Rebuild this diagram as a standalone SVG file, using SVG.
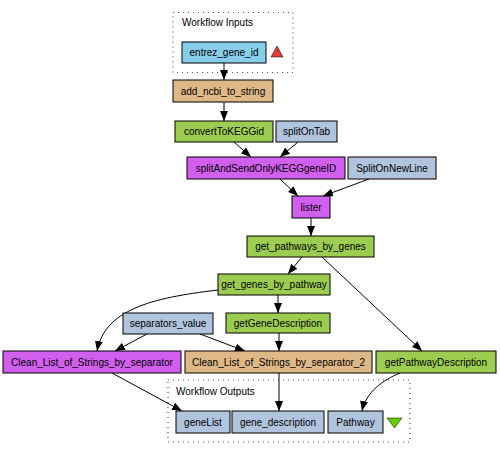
<svg xmlns="http://www.w3.org/2000/svg" width="500" height="454" viewBox="0 0 500 454">
<style>
text{font-family:"Liberation Sans",Arial,sans-serif;font-size:10px;fill:#000;}
.n text{text-anchor:middle;}
.box{stroke:#000;stroke-width:1;}
.cluster{fill:none;stroke:#555;stroke-width:1.2;stroke-dasharray:1 4;}
.in{fill:#87ceeb;}
.bean{fill:#deb887;}
.ws{fill:#9ccd50;}
.str{fill:#b0c4de;}
.loc{fill:#d15fee;}
.e{fill:none;stroke:#000;stroke-width:1;marker-end:url(#ah);}
</style>
<defs>
<marker id="ah" markerWidth="10" markerHeight="8" refX="10" refY="4" orient="auto" markerUnits="userSpaceOnUse">
<path d="M0,0 L10,4 L0,8 Z" fill="#000"/>
</marker>
</defs>
<rect width="500" height="454" fill="#fff"/>
<g id="workflow_inputs">
<rect class="cluster" x="173" y="12.5" width="120" height="60"/>
<text x="182" y="26">Workflow Inputs</text>
</g>
<g id="workflow_outputs">
<rect class="cluster" x="168" y="380" width="242" height="62"/>
<text x="176" y="395">Workflow Outputs</text>
</g>
<g id="connectors">
<path class="e" d="M224,63 L224,80"/>
<path class="e" d="M224,102 L224,121"/>
<path class="e" d="M234,142 L251,157"/>
<path class="e" d="M298,142 L280,157"/>
<path class="e" d="M280,179 L298,196"/>
<path class="e" d="M369,179 L323,196"/>
<path class="e" d="M311,218 L311,236"/>
<path class="e" d="M302,257 L288,274"/>
<path class="e" d="M322,257 L422,351"/>
<path class="e" d="M218,290 C150,298 105,310 97,351"/>
<path class="e" d="M147,334 L115,351"/>
<path class="e" d="M200,334 L245,351"/>
<path class="e" d="M278,295 L278,313"/>
<path class="e" d="M279,333 L279,351"/>
<path class="e" d="M112,373 L182,411"/>
<path class="e" d="M279,373 L279,411"/>
<path class="e" d="M400,373 C383,380 366,392 362,411"/>
</g>
<g id="entrez_gene_id" class="n">
<rect class="box in" x="182" y="42" width="84" height="21"/>
<text x="224" y="56">entrez_gene_id</text>
<path d="M271,57 L277,46 L283,57 Z" fill="#e83a3a" stroke="#000" stroke-width="0.5"/>
</g>
<g id="add_ncbi_to_string" class="n">
<rect class="box bean" x="173" y="80" width="100" height="22"/>
<text x="223" y="94.5">add_ncbi_to_string</text>
</g>
<g id="convertToKEGGid" class="n">
<rect class="box ws" x="175" y="121" width="98" height="21"/>
<text x="224" y="135">convertToKEGGid</text>
</g>
<g id="splitOnTab" class="n">
<rect class="box str" x="276" y="121" width="61" height="21"/>
<text x="306.5" y="135">splitOnTab</text>
</g>
<g id="splitAndSendOnlyKEGGgeneID" class="n">
<rect class="box loc" x="187" y="157" width="158" height="22"/>
<text x="266" y="171.5">splitAndSendOnlyKEGGgeneID</text>
</g>
<g id="SplitOnNewLine" class="n">
<rect class="box str" x="348" y="157" width="88" height="22"/>
<text x="392" y="171.5">SplitOnNewLine</text>
</g>
<g id="lister" class="n">
<rect class="box loc" x="292" y="196" width="38" height="22"/>
<text x="311" y="210.5">lister</text>
</g>
<g id="get_pathways_by_genes" class="n">
<rect class="box ws" x="247" y="236" width="127" height="21"/>
<text x="310.5" y="250">get_pathways_by_genes</text>
</g>
<g id="get_genes_by_pathway" class="n">
<rect class="box ws" x="218" y="274" width="112" height="21"/>
<text x="274" y="288">get_genes_by_pathway</text>
</g>
<g id="separators_value" class="n">
<rect class="box str" x="123" y="313" width="90" height="21"/>
<text x="168" y="327">separators_value</text>
</g>
<g id="getGeneDescription" class="n">
<rect class="box ws" x="226" y="313" width="104" height="20"/>
<text x="278" y="326.5">getGeneDescription</text>
</g>
<g id="Clean_List_of_Strings_by_separator" class="n">
<rect class="box loc" x="3" y="351" width="178" height="22"/>
<text x="92" y="365.5">Clean_List_of_Strings_by_separator</text>
</g>
<g id="Clean_List_of_Strings_by_separator_2" class="n">
<rect class="box bean" x="185" y="351" width="187" height="22"/>
<text x="278.5" y="365.5">Clean_List_of_Strings_by_separator_2</text>
</g>
<g id="getPathwayDescription" class="n">
<rect class="box ws" x="376" y="351" width="120" height="22"/>
<text x="436" y="365.5">getPathwayDescription</text>
</g>
<g id="geneList" class="n">
<rect class="box str" x="176" y="411" width="54" height="22"/>
<text x="203" y="425.5">geneList</text>
</g>
<g id="gene_description" class="n">
<rect class="box str" x="232" y="411" width="92" height="22"/>
<text x="278" y="425.5">gene_description</text>
</g>
<g id="Pathway" class="n">
<rect class="box str" x="328" y="411" width="55" height="22"/>
<text x="355.5" y="425.5">Pathway</text>
<path d="M387,418 L402,418 L394.5,428 Z" fill="#66cc00" stroke="#000" stroke-width="0.5"/>
</g>
</svg>
